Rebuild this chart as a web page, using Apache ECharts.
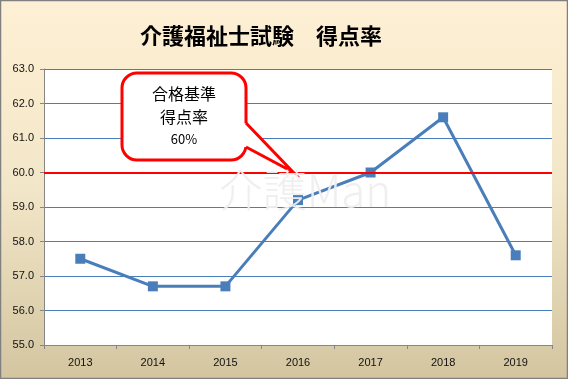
<!DOCTYPE html>
<html><head><meta charset="utf-8">
<script src="https://cdn.jsdelivr.net/npm/echarts@6/dist/echarts.min.js"></script>
<style>html,body{margin:0;padding:0;}#c{width:568px;height:379px;}</style>
</head><body><div id="c"></div>
<script>
const years = ['2013','2014','2015','2016','2017','2018','2019'];
const scoreRate = [57.5, 56.7, 56.7, 59.2, 60.0, 61.6, 57.6];
const passLine = 60;
const yMin = 55, yMax = 63, yStep = 1;
const titleText = '介護福祉士試験　得点率';
const calloutLines = ['合格基準', '得点率', '60%'];
const watermark = '介護Man';

const chart = echarts.init(document.getElementById('c'));
const font = '"Noto Sans CJK JP", "Noto Sans", sans-serif';
chart.setOption({
  animation: false,
  backgroundColor: {type:'linear', x:0, y:0, x2:0, y2:1, colorStops:[
    {offset:0,color:'#FEF0D4'},{offset:0.5,color:'#F2E6C8'},{offset:1,color:'#D3C5A0'}]},
  title: {text: titleText, left: 256, top: 20, textAlign: 'center',
    textStyle:{fontFamily: font, fontSize: 22, fontWeight:'bold', color:'#000'}},
  grid: {left: 44, right: 16, top: 69, bottom: 34, show: true, backgroundColor:'#fff', borderWidth:0},
  xAxis: {type:'category', data: years, boundaryGap: true,
    axisLine:{lineStyle:{color:'#868686', width:1}},
    axisTick:{show:true, length:4, lineStyle:{color:'#868686'}},
    axisLabel:{fontFamily:'"Liberation Sans", Arial, sans-serif', fontSize:11, color:'#111', margin:12}},
  yAxis: {type:'value', min:yMin, max:yMax, interval:yStep,
    axisLine:{show:true, lineStyle:{color:'#868686'}},
    axisTick:{show:true, length:4, lineStyle:{color:'#868686'}},
    splitLine:{lineStyle:{color:'#4A7EBB', width:1}},
    axisLabel:{formatter:v=>v.toFixed(1), fontFamily:'"Liberation Sans", Arial, sans-serif', fontSize:11, color:'#111', margin:10}},
  series: [{
    type:'line', data: scoreRate, symbol:'rect', symbolSize:10,
    lineStyle:{color:'#4A7EBB', width:3}, itemStyle:{color:'#4A7EBB'},
    z: 3,
    markLine:{silent:true, symbol:'none', label:{show:false},
      lineStyle:{color:'#FF0000', width:2, type:'solid'},
      data:[{yAxis: passLine}]}
  }],
  graphic: [
    {type:'rect', z:10, shape:{x:122, y:73, width:124, height:87, r:15},
     style:{fill:'#fff', stroke:'#FF0000', lineWidth:3}},
    {type:'polygon', z:11, shape:{points:[[240,124],[246,123],[293,172],[246,147],[240,147]]},
     style:{fill:'#fff'}},
    {type:'polyline', z:12, shape:{points:[[246,123],[293,172],[246,147]]},
     style:{stroke:'#FF0000', lineWidth:3, fill:null, lineJoin:'miter'}},
    {type:'text', z:13, style:{text: calloutLines[0], x:184, y:94, textAlign:'center', textVerticalAlign:'middle', font:'16px ' + font, fill:'#000'}},
    {type:'text', z:13, style:{text: calloutLines[1], x:184, y:117, textAlign:'center', textVerticalAlign:'middle', font:'16px ' + font, fill:'#000'}},
    {type:'text', z:13, style:{text: calloutLines[2], x:184, y:139, textAlign:'center', textVerticalAlign:'middle', font:'13px ' + font, fill:'#000'}},
    {type:'text', z:20, style:{text: watermark, x:305, y:190, textAlign:'center', textVerticalAlign:'middle', font:'200 44px "Noto Sans CJK JP", sans-serif', fill:'rgba(238,238,238,0.95)'}},
    {type:'rect', z:30, shape:{x:0.5,y:0.5,width:567,height:378}, style:{fill:'none', stroke:'#808080', lineWidth:1.5}}
  ]
});
</script></body></html>
